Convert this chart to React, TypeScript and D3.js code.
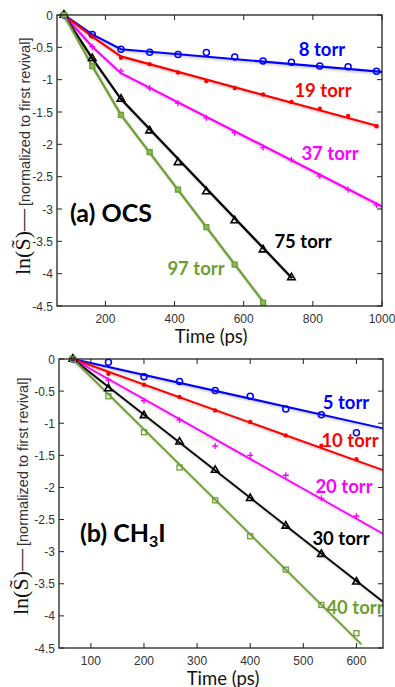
import * as d3 from "d3";
import React from "react";

// (a) OCS - times in ps, values ln(S) normalized to first revival
const timesA = [80, 162, 245, 328, 410, 492, 574, 656, 738, 820, 902, 984];
const ocs8 = [0, -0.3, -0.53, -0.577, -0.61, -0.58, -0.65, -0.71, -0.73, -0.79, -0.8, -0.87];
const ocs19 = [0, -0.335, -0.66, -0.76, -0.89, -1.02, -1.13, -1.23, -1.345, -1.45, -1.56, -1.72];
const ocs37 = [0, -0.49, -0.865, -1.13, -1.365, -1.59, -1.82, -2.05, -2.24, -2.49, -2.7, -2.94];
const ocs75 = [0, -0.67, -1.3, -1.79, -2.28, -2.73, -3.18, -3.63, -4.06];
const ocs97 = [0, -0.79, -1.545, -2.12, -2.7, -3.28, -3.86, -4.45];

const fitA8 = [[80, 0], [162, -0.3], [245, -0.53], [1000, -0.88]];
const fitA19 = [[80, 0], [162, -0.335], [245, -0.64], [990, -1.72]];
const fitA37 = [[80, 0], [162, -0.49], [245, -0.9], [1000, -2.96]];
const fitA75 = [[80, 0], [162, -0.67], [245, -1.3], [740, -4.07]];
const fitA97 = [[80, 0], [162, -0.79], [245, -1.545], [660, -4.46]];

// (b) CH3I
const timesB = [66, 133, 200, 267, 334, 400, 467, 534, 600];
const ch5 = [0, -0.05, -0.275, -0.35, -0.49, -0.58, -0.78, -0.87, -1.15];
const ch10 = [0, -0.23, -0.4, -0.59, -0.8, -0.98, -1.19, -1.35, -1.56];
const ch20 = [0, -0.33, -0.65, -0.95, -1.355, -1.5, -1.81, -2.17, -2.445];
const ch30 = [0, -0.46, -0.88, -1.29, -1.73, -2.17, -2.6, -3.04, -3.47];
const ch40 = [0, -0.58, -1.14, -1.69, -2.2, -2.76, -3.28, -3.83, -4.27];

const fitB5 = [[66, 0], [650, -1.08]];
const fitB10 = [[66, 0], [650, -1.73]];
const fitB20 = [[66, 0], [650, -2.72]];
const fitB30 = [[66, 0], [650, -3.78]];
const fitB40 = [[66, 0], [609, -4.44]];

const yTicks = [0, -0.5, -1, -1.5, -2, -2.5, -3, -3.5, -4, -4.5];
const xTicksA = [200, 400, 600, 800, 1000];
const xTicksB = [100, 200, 300, 400, 500, 600];

const BLUE = "#0000ff";
const RED = "#ff0000";
const MAGENTA = "#ff00ff";
const BLACK = "#000000";
const GREEN = "#6e9e32";

const tickFont = "'Liberation Sans', Arial, sans-serif";
const labelFont = "Lato, 'Open Sans', sans-serif";

function Marker({ kind, x, y, color, filled }) {
  if (kind === "circle")
    return <circle cx={x} cy={y} r={3} fill="none" stroke={color} strokeWidth={1.5} />;
  if (kind === "dot") return <circle cx={x} cy={y} r={2.2} fill={color} />;
  if (kind === "plus")
    return (
      <path d={`M${x - 3},${y}H${x + 3}M${x},${y - 3}V${y + 3}`} stroke={color} strokeWidth={1.3} />
    );
  if (kind === "tri") {
    const s = d3.symbol(d3.symbolTriangle, 24)();
    return (
      <path d={s} transform={`translate(${x},${y})`} fill="none" stroke={color} strokeWidth={1.6} />
    );
  }
  return (
    <rect
      x={x - 2.5}
      y={y - 2.5}
      width={5}
      height={5}
      fill={filled ? "#8cb85a" : "none"}
      stroke={color}
      strokeWidth={1.3}
    />
  );
}

function Panel({ left, right, top, bottom, xDomain, xTicks, times, series, title, labelY, labelX, xLabelX }) {
  const x = d3.scaleLinear().domain(xDomain).range([left, right]);
  const y = d3.scaleLinear().domain([-4.5, 0]).range([bottom, top]);
  const line = d3
    .line()
    .x((d) => x(d[0]))
    .y((d) => y(d[1]));
  const clipId = "clip" + top;

  return (
    <g>
      <defs>
        <clipPath id={clipId}>
          <rect x={left} y={top - 4} width={right - left} height={bottom - top + 4} />
        </clipPath>
        <filter id={"sh" + top} x="-10%" y="-10%" width="120%" height="120%">
          <feDropShadow dx="1" dy="1.5" stdDeviation="0.8" floodColor="#000" floodOpacity="0.25" />
        </filter>
      </defs>

      <g clipPath={`url(#${clipId})`}>
        {series.map((s) => (
          <path
            key={s.name}
            d={line(s.fit)}
            fill="none"
            stroke={s.color}
            strokeWidth={s.width}
            filter={`url(#sh${top})`}
          />
        ))}
      </g>
      {series.map((s) =>
        s.values.map((v, i) => (
          <Marker
            key={s.name + i}
            kind={s.marker}
            x={x(times[i])}
            y={y(v)}
            color={s.color}
            filled={s.filled}
          />
        ))
      )}

      {series.map((s) => (
        <text
          key={s.name + "lbl"}
          x={s.lx}
          y={s.ly}
          fill={s.color}
          fontFamily={labelFont}
          fontWeight="bold"
          fontSize={18.5}
          textAnchor="middle"
        >
          {s.name}
        </text>
      ))}

      {/* frame */}
      <rect x={left} y={top} width={right - left} height={bottom - top} fill="none" stroke="#222" strokeWidth={1.3} />

      {yTicks.map((t) => (
        <g key={"y" + t}>
          <line x1={left} x2={left + 5} y1={y(t)} y2={y(t)} stroke="#222" />
          <line x1={right} x2={right - 5} y1={y(t)} y2={y(t)} stroke="#222" />
          <text
            x={left - 4}
            y={y(t) + 4.5}
            textAnchor="end"
            fontFamily={tickFont}
            fontSize={12}
            fill="#333"
          >
            {t}
          </text>
        </g>
      ))}
      {xTicks.map((t) => (
        <g key={"x" + t}>
          <line x1={x(t)} x2={x(t)} y1={bottom} y2={bottom - 5} stroke="#222" />
          <line x1={x(t)} x2={x(t)} y1={top} y2={top + 5} stroke="#222" />
          <text
            x={x(t)}
            y={bottom + 16.5}
            textAnchor="middle"
            fontFamily={tickFont}
            fontSize={12}
            fill="#333"
          >
            {t}
          </text>
        </g>
      ))}

      <text x={xLabelX} y={bottom + 37} textAnchor="middle" fontFamily={labelFont} fontSize={18.5} fill="#111">
        Time (ps)
      </text>

      <text
        transform={`translate(${labelX},${labelY}) rotate(-90)`}
        fill="#111"
      >
        <tspan fontFamily="'Liberation Serif', 'DejaVu Serif', serif" fontSize={22}>
          ln(S&#x0303;)—
        </tspan>
        <tspan fontFamily={tickFont} fontSize={14.5} fill="#333" dx={3}>
          [normalized to first revival]
        </tspan>
      </text>

      {title}
    </g>
  );
}

export default function App() {
  const seriesA = [
    { name: "8 torr", color: BLUE, marker: "circle", values: ocs8, fit: fitA8, lx: 322, ly: 56, width: 2.2 },
    { name: "19 torr", color: RED, marker: "dot", values: ocs19, fit: fitA19, lx: 323, ly: 97, width: 2.2 },
    { name: "37 torr", color: MAGENTA, marker: "plus", values: ocs37, fit: fitA37, lx: 330, ly: 160, width: 2.2 },
    { name: "75 torr", color: BLACK, marker: "tri", values: ocs75, fit: fitA75, lx: 303, ly: 248, width: 2.2 },
    { name: "97 torr", color: GREEN, marker: "square", filled: true, values: ocs97, fit: fitA97, lx: 196, ly: 275, width: 2.2 },
  ];
  const seriesB = [
    { name: "5 torr", color: BLUE, marker: "circle", values: ch5, fit: fitB5, lx: 346, ly: 409, width: 2 },
    { name: "10 torr", color: RED, marker: "dot", values: ch10, fit: fitB10, lx: 350, ly: 447, width: 2 },
    { name: "20 torr", color: MAGENTA, marker: "plus", values: ch20, fit: fitB20, lx: 344, ly: 493, width: 1.8 },
    { name: "30 torr", color: BLACK, marker: "tri", values: ch30, fit: fitB30, lx: 341, ly: 545, width: 1.8 },
    { name: "40 torr", color: GREEN, marker: "square", filled: false, values: ch40, fit: fitB40, lx: 355, ly: 614, width: 1.8 },
  ];

  return (
    <svg
      width={395}
      height={687}
      style={{ position: "absolute", left: 0, top: 0, background: "#fff" }}
    >
      <Panel
        left={57}
        right={382}
        top={15}
        bottom={306}
        xDomain={[60, 1000]}
        xTicks={xTicksA}
        times={timesA}
        series={seriesA}
        labelX={30}
        labelY={275}
        xLabelX={211}
        title={
          <text x={111} y={222} textAnchor="middle" fontFamily={labelFont} fontWeight="bold" fontSize={25} fill="#000">
            (a) OCS
          </text>
        }
      />
      <Panel
        left={59}
        right={383}
        top={359}
        bottom={648}
        xDomain={[40, 650]}
        xTicks={xTicksB}
        times={timesB}
        series={seriesB}
        labelX={28}
        labelY={615}
        xLabelX={223}
        title={
          <text x={80} y={542} fontFamily={labelFont} fontWeight="bold" fontSize={25} fill="#000">
            (b) CH
            <tspan fontSize={16} dy={5}>3</tspan>
            <tspan dy={-5}>I</tspan>
          </text>
        }
      />
    </svg>
  );
}
